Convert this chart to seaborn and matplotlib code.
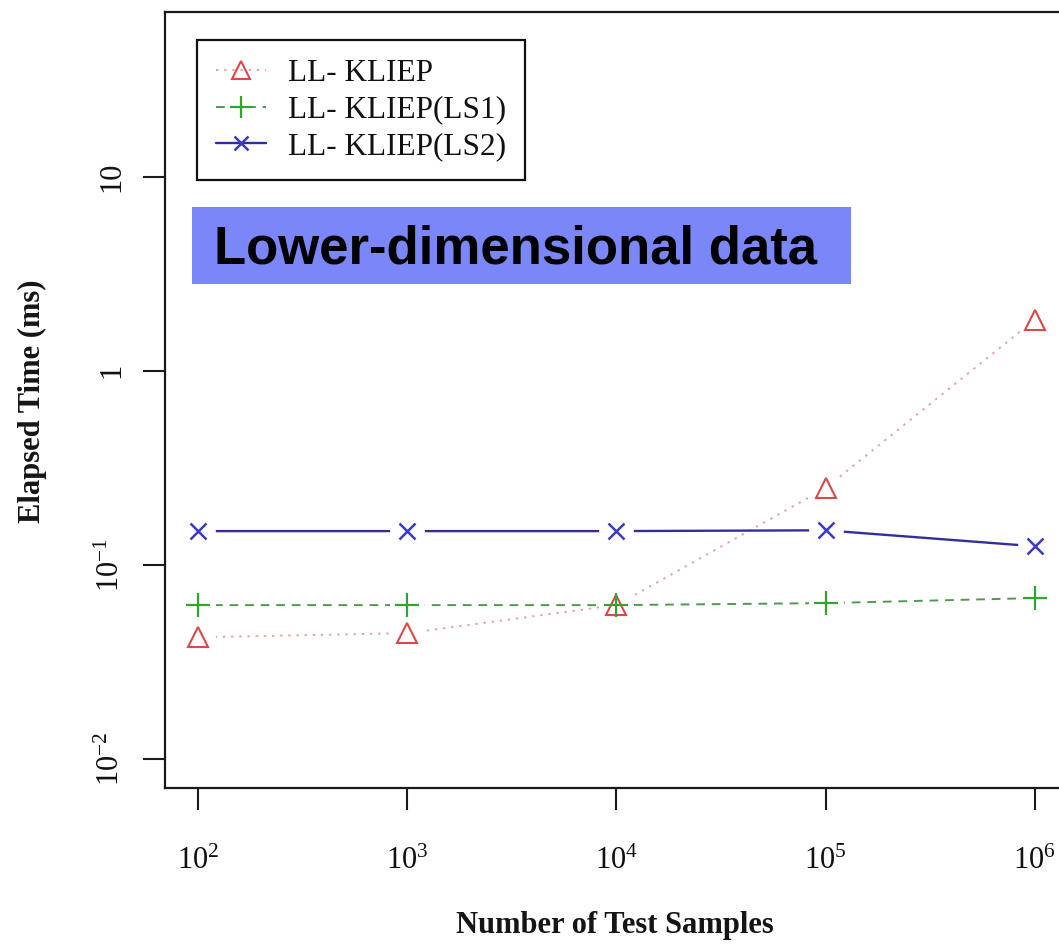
import numpy as np
import pandas as pd
import matplotlib
matplotlib.use("Agg")
import matplotlib.pyplot as plt
from matplotlib.lines import Line2D
from matplotlib.patches import Rectangle
import seaborn as sns

# ---------------- data ----------------
n_samples = [1e2, 1e3, 1e4, 1e5, 1e6]
ll_kliep = [0.0425, 0.0446, 0.0622, 0.249, 1.83]
ll_kliep_ls1 = [0.0622, 0.0622, 0.0622, 0.0637, 0.0676]
ll_kliep_ls2 = [0.1496, 0.1496, 0.1496, 0.151, 0.125]
series_names = ["LL- KLIEP", "LL- KLIEP(LS1)", "LL- KLIEP(LS2)"]
xtick_values = [1e2, 1e3, 1e4, 1e5, 1e6]
xtick_labels = ["$10^{2}$", "$10^{3}$", "$10^{4}$", "$10^{5}$", "$10^{6}$"]
ytick_values = [1e-2, 1e-1, 1, 10]
ytick_labels = ["$10^{-2}$", "$10^{-1}$", "1", "10"]
x_label = "Number of Test Samples"
y_label = "Elapsed Time (ms)"
banner_text = "Lower-dimensional data"

# ---------------- style ----------------
sns.set_style("ticks")
plt.rcParams["font.family"] = ["Liberation Serif", "DejaVu Serif"]
plt.rcParams["mathtext.fontset"] = "custom"
plt.rcParams["mathtext.rm"] = "Liberation Serif"
plt.rcParams["mathtext.default"] = "regular"

W, H = 1059, 944
fig = plt.figure(figsize=(W / 100, H / 100), dpi=100)
fig.patch.set_facecolor("white")

ax_l, ax_r, ax_t, ax_b = 165, 1068, 12, 788
ax = fig.add_axes([ax_l / W, 1 - ax_b / H, (ax_r - ax_l) / W, (ax_b - ax_t) / H])
ax.set_xscale("log")
ax.set_yscale("log")

styles = [
    dict(values=ll_kliep, line_color="#e2a3a3", ls=(0, (1.2, 3.0)), lw=1.4,
         marker="^", mcolor="#d84a4a", ms=14, mew=1.5),
    dict(values=ll_kliep_ls1, line_color="#4f9a4f", ls=(0, (4.5, 3.5)), lw=1.4,
         marker="+", mcolor="#2fa52f", ms=17, mew=1.6),
    dict(values=ll_kliep_ls2, line_color="#30309a", ls="-", lw=1.7,
         marker="x", mcolor="#3a3ac4", ms=11, mew=1.8),
]

handles = []
for name, st in zip(series_names, styles):
    df = pd.DataFrame({"n": n_samples, "t": st["values"]})
    sns.lineplot(data=df, x="n", y="t", ax=ax, color=st["line_color"],
                 linestyle=st["ls"], linewidth=st["lw"], zorder=2, legend=False)
for name, st in zip(series_names, styles):
    # R type="b": gaps in the lines around each point
    ax.plot(n_samples, st["values"], ls="none", marker="o", ms=25,
            color="white", mec="none", zorder=2.5)
for name, st in zip(series_names, styles):
    ax.plot(n_samples, st["values"], ls="none", marker=st["marker"], ms=st["ms"],
            mfc="none", mec=st["mcolor"], mew=st["mew"], zorder=3)
    handles.append(Line2D([], [], color=st["line_color"], linestyle=st["ls"],
                          linewidth=st["lw"], marker=st["marker"], ms=st["ms"] * 0.9,
                          mfc="none", mec=st["mcolor"], mew=st["mew"]))

ax.set_xlim(10 ** 1.84, 10 ** 6.16)
ax.set_ylim(10 ** -2.148, 10 ** 1.848)
ax.set_xticks(xtick_values, labels=xtick_labels)
ax.set_yticks(ytick_values, labels=ytick_labels)
ax.minorticks_off()
ax.tick_params(axis="both", length=16, width=1.5, color="#1a1a1a",
               labelsize=22, labelcolor="#111111", direction="out")
ax.tick_params(axis="x", pad=26)
ax.tick_params(axis="y", pad=12, labelrotation=90)
for lab in ax.get_yticklabels():
    lab.set_va("center")

for side in ["left", "bottom", "top", "right"]:
    ax.spines[side].set_linewidth(1.6)
    ax.spines[side].set_color("#1a1a1a")

ax.set_xlabel(x_label, fontsize=22, fontweight="bold", color="#151515", va="center")
ax.xaxis.set_label_coords((615 - ax_l) / (ax_r - ax_l), (ax_b - 925) / (ax_b - ax_t))
ax.set_ylabel(y_label, fontsize=22, fontweight="bold", color="#151515", va="center")
ax.yaxis.set_label_coords((32 - ax_l) / (ax_r - ax_l), (ax_b - 401) / (ax_b - ax_t))

leg = ax.legend(handles, series_names, loc="upper left",
                bbox_to_anchor=(197 / W, 1 - 40 / H), bbox_transform=fig.transFigure,
                borderaxespad=0, frameon=True, fancybox=False, framealpha=1,
                edgecolor="#111111", fontsize=22.5, handlelength=1.6,
                handletextpad=0.7, labelspacing=0.25, borderpad=0.6)
leg.get_frame().set_linewidth(1.6)
for t in leg.get_texts():
    t.set_color("#111111")

# banner
fig.add_artist(Rectangle((192 / W, 1 - 284 / H), (851 - 192) / W, (284 - 207) / H,
                         transform=fig.transFigure, facecolor="#7b87f8",
                         edgecolor="none", zorder=10))
fig.text(214 / W, 1 - 263 / H, banner_text, fontsize=38, fontweight="bold",
         family="Liberation Sans", color="black", va="baseline", ha="left", zorder=11)

fig.savefig("out.png", dpi=100)
